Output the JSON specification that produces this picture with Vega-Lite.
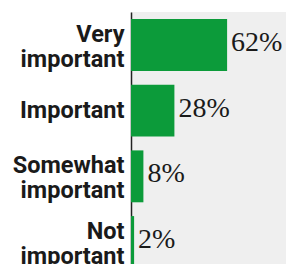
{
  "$schema": "https://vega.github.io/schema/vega-lite/v6.json",
  "width": 155,
  "height": 252,
  "autosize": "none",
  "padding": {"left": 131, "top": 12, "right": 0, "bottom": 0},
  "background": "white",
  "data": {
    "values": [
      {"level": "Very important", "share": 0.62},
      {"level": "Important", "share": 0.28},
      {"level": "Somewhat important", "share": 0.08},
      {"level": "Not important", "share": 0.02}
    ]
  },
  "encoding": {
    "y": {
      "field": "level",
      "type": "nominal",
      "sort": null,
      "scale": {"range": [0, 263], "paddingInner": 0.21, "paddingOuter": 0.107},
      "axis": {
        "title": null,
        "domain": true,
        "domainColor": "#222222",
        "domainWidth": 1.5,
        "ticks": false,
        "labelPadding": 7,
        "labelFont": "Roboto",
        "labelFontWeight": "bold",
        "labelFontSize": 23.5,
        "labelColor": "#1a1a1a",
        "labelExpr": "split(datum.label, ' ')",
        "labelLineHeight": 25,
        "labelLimit": 200,
        "labelBound": false,
        "labelOverlap": false,
        "labelOffset": {"condition": {"test": "indexof(datum.label, ' ') >= 0", "value": -10}, "value": 0}
      }
    },
    "x": {
      "field": "share",
      "type": "quantitative",
      "scale": {"domain": [0, 1]},
      "axis": null
    }
  },
  "layer": [
    {"mark": {"type": "bar", "color": "#0c9b3a", "clip": true}},
    {
      "mark": {
        "type": "text",
        "align": "left",
        "baseline": "middle",
        "dx": 4,
        "dy": -2,
        "font": "Liberation Serif",
        "fontSize": 28,
        "color": "#1a1a1a"
      },
      "encoding": {"text": {"field": "share", "type": "quantitative", "format": ".0%"}}
    }
  ],
  "config": {"view": {"fill": "#efefef", "stroke": null}}
}
